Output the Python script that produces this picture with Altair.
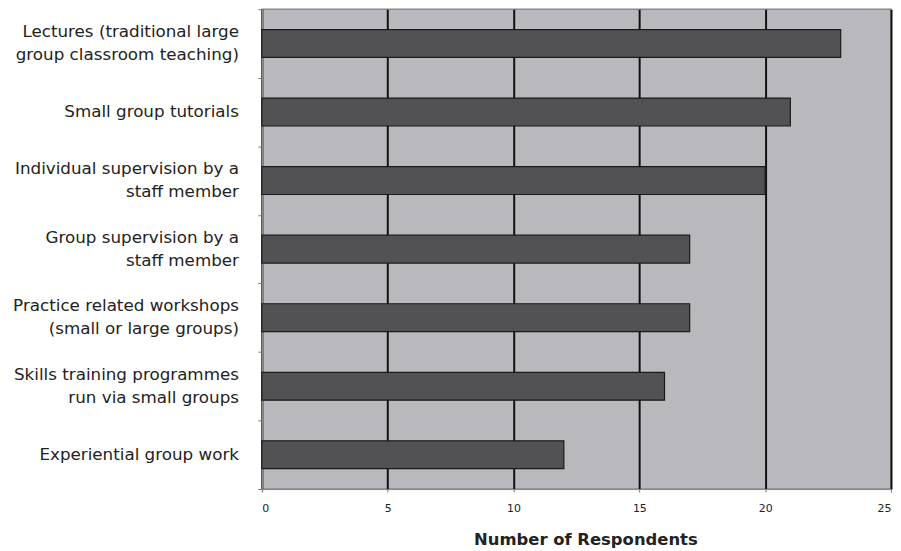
import altair as alt
import pandas as pd

categories = [
    "Lectures (traditional large|group classroom teaching)",
    "Small group tutorials",
    "Individual supervision by a\u00a0|staff member\u00a0",
    "Group supervision by a\u00a0|staff member\u00a0",
    "Practice related workshops|(small or large groups)",
    "Skills training programmes|run via small groups",
    "Experiential group work",
]
values = [23, 21, 20, 17, 17, 16, 12]
x_ticks = [0, 5, 10, 15, 20, 25]

df = pd.DataFrame({"cat": categories, "val": values})

single = pd.DataFrame({"cat": [c for c in categories if "|" not in c],
                       "txt": [c for c in categories if "|" not in c]})
multi = [c for c in categories if "|" in c]
line1 = pd.DataFrame({"cat": multi, "txt": [c.split("|")[0] for c in multi]})
line2 = pd.DataFrame({"cat": multi, "txt": [c.split("|")[1] for c in multi]})

y_enc = alt.Y("cat:N", sort=categories, title=None,
              scale=alt.Scale(paddingInner=0, paddingOuter=0),
              axis=alt.Axis(labels=False, tickBand="extent", tickColor="#777",
                            tickSize=4, domainColor="#888", domainWidth=1.5,
                            grid=False))

bars = alt.Chart(df).mark_bar(
    color="#525254", stroke="#1a1a1a", strokeWidth=1.2, size=28
).encode(
    x=alt.X("val:Q", scale=alt.Scale(domain=[0, 25], nice=False),
            axis=alt.Axis(values=x_ticks, title="Number of Respondents",
                          titleFont="DejaVu Sans", titleFontSize=16.5,
                          titleFontWeight="bold", titleColor="#222",
                          titlePadding=18, titleX=325,
                          labelFont="DejaVu Sans", labelFontSize=11,
                          labelColor="#222", labelPadding=11,
                          tickColor="#777", tickSize=3,
                          domainColor="#888", domainWidth=1,
                          grid=True, gridColor="#111", gridWidth=2,
                          gridOpacity=1)),
    y=y_enc,
)

def label_layer(data, dy):
    return alt.Chart(data).mark_text(
        align="right", baseline="middle", dy=dy, font="DejaVu Sans",
        fontSize=16.8, color="#222"
    ).encode(x=alt.value(-23), y=alt.Y("cat:N", sort=categories), text="txt:N")

chart = alt.layer(
    bars, label_layer(single, 0), label_layer(line1, -11.5), label_layer(line2, 11.5)
).properties(width=632, height=482).configure_view(
    fill="#b9b9bd", stroke="#888", strokeWidth=1.5
).properties(
    autosize=alt.AutoSizeParams(type="none"),
    padding={"left": 255, "top": 0, "right": 2, "bottom": 60},
    background="white",
)

chart.save("out.html", embed_options={"renderer": "svg", "actions": False})
